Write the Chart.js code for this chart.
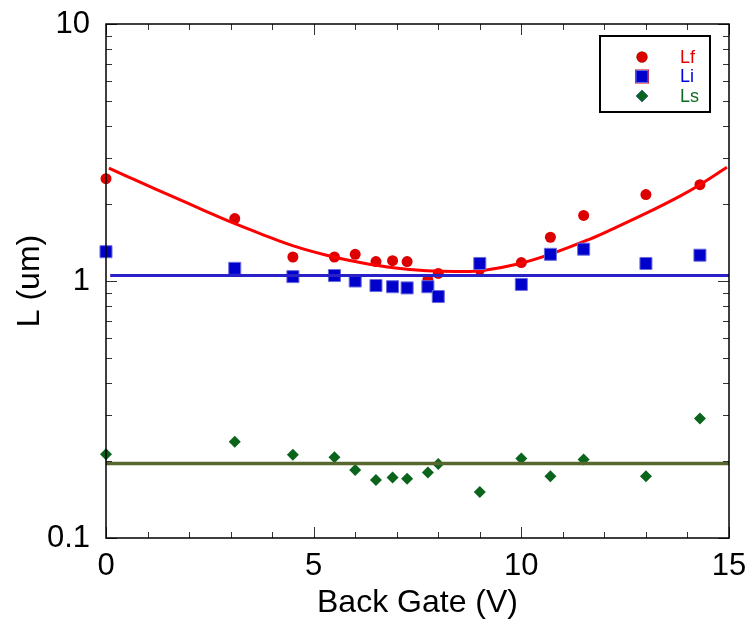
<!DOCTYPE html>
<html>
<head>
<meta charset="utf-8">
<script src="https://cdn.jsdelivr.net/npm/chart.js@4/dist/chart.umd.min.js"></script>
<style>
    html, body { margin: 0; padding: 0; background: #fff; }
    #wrap { width: 755px; height: 630px; position: relative; }
</style>
</head>
<body>
<div id="wrap"><canvas id="chart"></canvas></div>
<script>
// ── Data ──
const gateV = [0, 3.1, 4.5, 5.5, 6.0, 6.5, 6.9, 7.25, 7.75, 8.0, 9.0, 10.0, 10.7, 11.5, 13.0, 14.3];
const lfVals = [2.50, 1.75, 1.24, 1.24, 1.27, 1.19, 1.20, 1.19, 1.01, 1.07, 1.11, 1.18, 1.48, 1.80, 2.17, 2.37];
const liVals = [1.30, 1.12, 1.04, 1.05, 1.00, 0.96, 0.95, 0.94, 0.95, 0.87, 1.17, 0.97, 1.27, 1.33, 1.17, 1.26];
const lsVals = [0.212, 0.237, 0.211, 0.206, 0.184, 0.168, 0.172, 0.170, 0.180, 0.194, 0.151, 0.204, 0.174, 0.202, 0.174, 0.292];

// fit curve for Lf
const lfFitX = [0.07, 0.78, 1.58, 2.38, 3.03, 3.71, 4.51, 5.31, 6.12, 6.92, 7.72, 8.52, 9.08, 9.89, 10.69, 11.65, 12.22, 13.02, 13.82, 14.30, 14.95];
const lfFitY = [2.75, 2.44, 2.14, 1.875, 1.69, 1.53, 1.37, 1.26, 1.18, 1.125, 1.096, 1.089, 1.099, 1.162, 1.27, 1.456, 1.60, 1.84, 2.14, 2.37, 2.77];
// flat fits for Li and Ls
const liFitX = [0.1, 15];
const liFitY = [1.05, 1.05];
const lsFitX = [0, 15];
const lsFitY = [0.195, 0.195];

// axis ticks
const xLabelTicks = [0, 5, 10, 15];
const xMinorTicks = [1, 2, 3, 4, 6, 7, 8, 9, 11, 12, 13, 14];
const yLabelTicks = [0.1, 1, 10];
const yLabelText = ['0.1', '1', '10'];
const yMinorTicks = [0.2, 0.3, 0.4, 0.5, 0.6, 0.7, 0.8, 0.9, 2, 3, 4, 5, 6, 7, 8, 9];

const FONT = "'Liberation Sans', Arial, sans-serif";

const pts = (xs, ys) => xs.map((x, i) => ({ x, y: ys[i] }));

// ── Plugins ──

// frame + inward ticks on all four sides
const framePlugin = {
    id: 'frame',
    afterDatasetsDraw(chart) {
        const { ctx, chartArea: a, scales } = chart;
        const xs = scales.x, ys = scales.y;
        ctx.save();
        ctx.strokeStyle = '#333';
        ctx.lineWidth = 1;
        const tick = (px, len, vertical) => {
            ctx.beginPath();
            if (vertical) {
                ctx.moveTo(px, a.bottom); ctx.lineTo(px, a.bottom - len);
                ctx.moveTo(px, a.top); ctx.lineTo(px, a.top + len);
            } else {
                ctx.moveTo(a.left, px); ctx.lineTo(a.left + len, px);
                ctx.moveTo(a.right, px); ctx.lineTo(a.right - len, px);
            }
            ctx.stroke();
        };
        xLabelTicks.forEach(v => tick(Math.round(xs.getPixelForValue(v)) + 0.5, 11, true));
        xMinorTicks.forEach(v => tick(Math.round(xs.getPixelForValue(v)) + 0.5, 6, true));
        yLabelTicks.forEach(v => tick(Math.round(ys.getPixelForValue(v)) + 0.5, 11, false));
        yMinorTicks.forEach(v => tick(Math.round(ys.getPixelForValue(v)) + 0.5, 6, false));

        ctx.strokeStyle = '#000';
        ctx.lineWidth = 1.5;
        ctx.strokeRect(a.left, a.top, a.right - a.left, a.bottom - a.top);
        ctx.restore();
    }
};

// boxed legend in the upper right
const legendBoxPlugin = {
    id: 'legendBox',
    afterDraw(chart) {
        const { ctx } = chart;
        const box = { x: 600, y: 36, w: 110, h: 76 };
        ctx.save();
        ctx.strokeStyle = '#000';
        ctx.lineWidth = 2;
        ctx.strokeRect(box.x, box.y, box.w, box.h);
        ctx.font = `18px ${FONT}`;
        ctx.textBaseline = 'middle';
        ctx.textAlign = 'left';
        chart.data.datasets.filter(d => d.inLegend).forEach((ds, i) => {
            const cy = box.y + 21 + i * 19.5;
            Chart.helpers.drawPoint(ctx, {
                pointStyle: ds.pointStyle,
                radius: ds.pointRadius,
                borderWidth: ds.borderWidth,
            }, 642, cy);
            ctx.fillStyle = ds.backgroundColor;
            ctx.strokeStyle = ds.borderColor;
            ctx.lineWidth = ds.borderWidth;
            ctx.fill();
            if (ds.borderWidth) ctx.stroke();
            ctx.fillStyle = ds.textColor;
            ctx.fillText(ds.label, 680, cy + 1);
        });
        ctx.restore();
    }
};

const noScalePadding = s => {
    s.paddingTop = 0; s.paddingBottom = 0;
    s.paddingLeft = 0; s.paddingRight = 0;
};

// ── Chart ──
new Chart(document.getElementById('chart'), {
    type: 'scatter',
    data: {
        datasets: [
            {
                label: 'Lf', inLegend: true, textColor: '#e00000',
                data: pts(gateV, lfVals),
                pointStyle: 'circle', pointRadius: 5.5,
                backgroundColor: '#dd0000', borderColor: '#dd0000', borderWidth: 0,
                clip: false, order: 6,
            },
            {
                label: 'Lf fit', type: 'line',
                data: pts(lfFitX, lfFitY),
                borderColor: '#ff0000', borderWidth: 3, pointRadius: 0,
                tension: 0.4, fill: false, clip: false, order: 5,
            },
            {
                label: 'Li', inLegend: true, textColor: '#0000dd',
                data: pts(gateV, liVals),
                pointStyle: 'rect', pointRadius: 8.5,
                backgroundColor: '#0000cc', borderColor: '#6a6ae0', borderWidth: 1,
                clip: false, order: 4,
            },
            {
                label: 'Li fit', type: 'line',
                data: pts(liFitX, liFitY),
                borderColor: '#2a22c8', borderWidth: 3, pointRadius: 0,
                fill: false, clip: false, order: 3,
            },
            {
                label: 'Ls', inLegend: true, textColor: '#0e6a1e',
                data: pts(gateV, lsVals),
                pointStyle: 'rectRot', pointRadius: 6,
                backgroundColor: '#0b641c', borderColor: '#0b641c', borderWidth: 0,
                clip: false, order: 2,
            },
            {
                label: 'Ls fit', type: 'line',
                data: pts(lsFitX, lsFitY),
                borderColor: '#56682e', borderWidth: 3.5, pointRadius: 0,
                fill: false, clip: false, order: 1,
            },
        ]
    },
    options: {
        responsive: true,
        maintainAspectRatio: false,
        animation: false,
        layout: { padding: { left: 0, right: 26, top: 24, bottom: 0 } },
        plugins: {
            legend: { display: false },
            tooltip: { enabled: false },
        },
        scales: {
            x: {
                type: 'linear', min: 0, max: 15,
                grid: { display: false, drawTicks: false },
                border: { display: false },
                afterBuildTicks: s => { s.ticks = xLabelTicks.map(v => ({ value: v })); },
                afterFit: s => { s.height = 92; noScalePadding(s); },
                ticks: {
                    color: '#000', padding: 10, maxRotation: 0,
                    font: { family: FONT, size: 31 },
                    callback: v => String(v),
                },
                title: {
                    display: true, text: 'Back Gate (V)', color: '#000',
                    font: { family: FONT, size: 32 },
                    padding: { top: 0, bottom: 8 },
                },
            },
            y: {
                type: 'logarithmic', min: 0.1, max: 10,
                grid: { display: false, drawTicks: false },
                border: { display: false },
                afterBuildTicks: s => { s.ticks = yLabelTicks.map(v => ({ value: v })); },
                afterFit: s => { s.width = 106; noScalePadding(s); },
                ticks: {
                    color: '#000', padding: 16,
                    font: { family: FONT, size: 31 },
                    callback: (v, i) => yLabelText[i],
                },
                title: {
                    display: true, text: 'L (um)', color: '#000',
                    font: { family: FONT, size: 32 },
                    padding: { top: 11, bottom: 0 },
                },
            },
        },
    },
    plugins: [framePlugin, legendBoxPlugin],
});
</script>
</body>
</html>
